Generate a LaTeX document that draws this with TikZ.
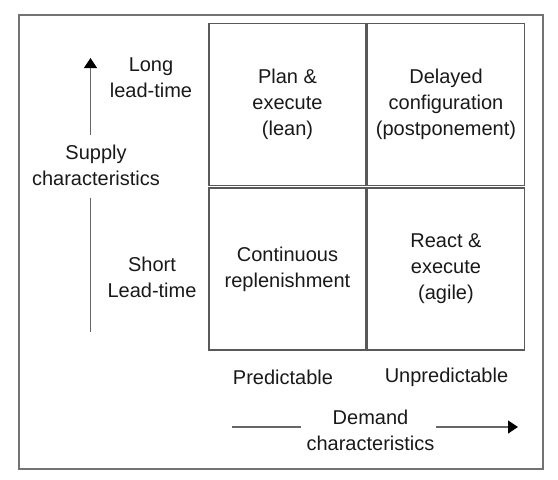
\documentclass[tikz,border=0pt]{standalone}
\usepackage{fontspec}
\setmainfont{Liberation Sans}
\usetikzlibrary{arrows.meta}
\begin{document}
\begin{tikzpicture}[x=1pt,y=-1pt,
  lbl/.style={font=\fontsize{20}{26}\selectfont, align=center, text=black!90, inner sep=0pt},
  cell/.style={lbl, draw=black!65, line width=1.3pt, minimum width=157pt, minimum height=162pt},
  axis/.style={draw=black!60, line width=1.3pt},
  tip/.style={-{Triangle[length=10pt,width=13pt,color=black]}}
]
\useasboundingbox (0,0) rectangle (558,480);
\draw[draw=black!55, line width=1.3pt] (19,15) rectangle (543,469);

\node[cell] (pe) at (287.5,104.5) {Plan \&\\execute\\(lean)};
\node[cell] (dc) at (446,104.5) {Delayed\\configuration\\(postponement)};
\node[cell] (cr) at (287.5,269) {Continuous\\replenishment};
\node[cell] (re) at (446,269) {React \&\\execute\\(agile)};

\node[lbl] (long) at (151,77.5) {Long\\lead-time};
\node[lbl] (supply) at (96,165.5) {Supply\\characteristics};
\node[lbl] (short) at (152,277.5) {Short\\Lead-time};

\node[lbl] (pred) at (283,377) {Predictable};
\node[lbl] (unpred) at (446.5,377) {Unpredictable};
\node[lbl] (demand) at (370.5,430) {Demand\\characteristics};

\coordinate (vtop) at (90.5,58);
\coordinate (vup) at (90.5,135);
\coordinate (vlo1) at (90.5,198);
\coordinate (vlo2) at (90.5,332);
\draw[axis,tip] (vup) -- (vtop);
\draw[axis] (vlo1) -- (vlo2);

\coordinate (hl1) at (232,427);
\coordinate (hl2) at (301,427);
\coordinate (hr1) at (436,427);
\coordinate (hr2) at (518,427);
\draw[axis] (hl1) -- (hl2);
\draw[axis,tip] (hr1) -- (hr2);
\end{tikzpicture}
\end{document}
